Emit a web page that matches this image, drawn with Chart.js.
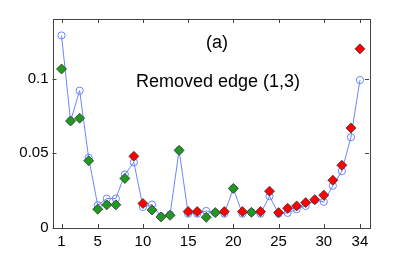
<!DOCTYPE html>
<html><head><meta charset="utf-8">
<script src="https://cdn.jsdelivr.net/npm/chart.js@4"></script>
<style>html,body{margin:0;padding:0;background:#fff}#wrap{width:407px;height:256px}</style>
</head><body><div id="wrap"><canvas id="c" width="407" height="256"></canvas></div>
<script>
const nodes = [1,2,3,4,5,6,7,8,9,10,11,12,13,14,15,16,17,18,19,20,21,22,23,24,25,26,27,28,29,30,31,32,33,34];
const circleValues = [0.129,0.0717,0.092,0.047,0.0152,0.0197,0.0197,0.0359,0.044,0.0141,0.0157,0.0078,0.009,0.052,0.0096,0.0096,0.0114,0.0103,0.0096,0.0265,0.0096,0.0105,0.0096,0.0213,0.0096,0.0101,0.0126,0.0148,0.0186,0.0175,0.0283,0.0381,0.0608,0.0991];
const greenDiamonds = [0.1065,0.0717,0.0735,0.045,0.0126,0.0155,0.0155,0.0332,null,null,0.0121,0.0074,0.0085,0.052,null,null,0.0072,0.0103,null,0.0265,null,0.0105,null,null,null,null,null,null,null,null,null,null,null,null];
const redDiamonds = [null,null,null,null,null,null,null,null,0.048,0.0164,null,null,null,null,0.011,0.011,null,null,0.011,null,0.011,null,0.011,0.0247,0.0103,0.0132,0.0148,0.017,0.019,0.022,0.032,0.042,0.067,0.12];
const xTicks = [1,5,10,15,20,25,30,34];
const yTicks = [0,0.05,0.1];
const yTickLabels = ["0","0.05","0.1"];
const labelA = "(a)";
const labelB = "Removed edge (1,3)";

const pts = arr => nodes.map((n,i)=>({x:n,y:arr[i]}));
const FONT = "'Liberation Sans', Arial, sans-serif";

const framePlugin = {
  id:'frame',
  afterDraw(chart){
    const {ctx, chartArea:a, scales:{x,y}} = chart;
    ctx.save();
    ctx.strokeStyle = '#444';
    ctx.lineWidth = 1;
    ctx.strokeRect(Math.round(a.left)+0.5, Math.round(a.top)+0.5, Math.round(a.right-a.left), Math.round(a.bottom-a.top));
    const L=4;
    ctx.beginPath();
    xTicks.forEach(v=>{const px=Math.round(x.getPixelForValue(v))+0.5;
      ctx.moveTo(px,a.bottom);ctx.lineTo(px,a.bottom-L);
      ctx.moveTo(px,a.top);ctx.lineTo(px,a.top+L);});
    yTicks.forEach(v=>{const py=Math.round(y.getPixelForValue(v))+0.5;
      ctx.moveTo(a.left,py);ctx.lineTo(a.left+L,py);
      ctx.moveTo(a.right,py);ctx.lineTo(a.right-L,py);});
    ctx.stroke();
    ctx.fillStyle='#000';
    ctx.textAlign='center';ctx.textBaseline='middle';
    ctx.font = "18px "+FONT;
    ctx.fillText(labelA, x.getPixelForValue(18.2), y.getPixelForValue(0.1236));
    ctx.fillText(labelB, x.getPixelForValue(18.3), y.getPixelForValue(0.0975));
    ctx.restore();
  }
};

new Chart(document.getElementById('c'), {
  type:'scatter',
  data:{datasets:[
    {data:pts(redDiamonds), pointStyle:'rectRot', radius:5, backgroundColor:'#ff0000', borderColor:'#333', borderWidth:0.8, showLine:false, order:1},
    {data:pts(greenDiamonds), pointStyle:'rectRot', radius:5, backgroundColor:'#1f9a1f', borderColor:'#333', borderWidth:0.8, showLine:false, order:2},
    {data:pts(circleValues), pointStyle:'circle', radius:3.6, backgroundColor:'rgba(0,0,0,0)', borderWidth:1, showLine:true, borderColor:'#6a86ff', order:3}
  ]},
  options:{
    responsive:false, animation:false, devicePixelRatio:1,
    layout:{padding:{left:0,right:38,top:19,bottom:0}},
    plugins:{legend:{display:false},tooltip:{enabled:false}},
    scales:{
      x:{type:'linear',min:0,max:35,
        afterBuildTicks(s){s.ticks=xTicks.map(v=>({value:v}));},
        afterFit(s){s.height=28;},
        grid:{display:false,drawTicks:false}, border:{display:false},
        ticks:{padding:5,color:'#000',font:{family:FONT,size:15},autoSkip:false,maxRotation:0,callback:v=>String(v)}},
      y:{type:'linear',min:0,max:0.14,
        afterBuildTicks(s){s.ticks=yTicks.map(v=>({value:v}));},
        afterFit(s){s.width=52.5;},
        grid:{display:false,drawTicks:false}, border:{display:false},
        ticks:{padding:4,color:'#000',font:{family:FONT,size:15},callback:(v)=>{const i=yTicks.indexOf(v);return i>=0?yTickLabels[i]:'';}}}
    }
  },
  plugins:[framePlugin]
});
</script></body></html>
